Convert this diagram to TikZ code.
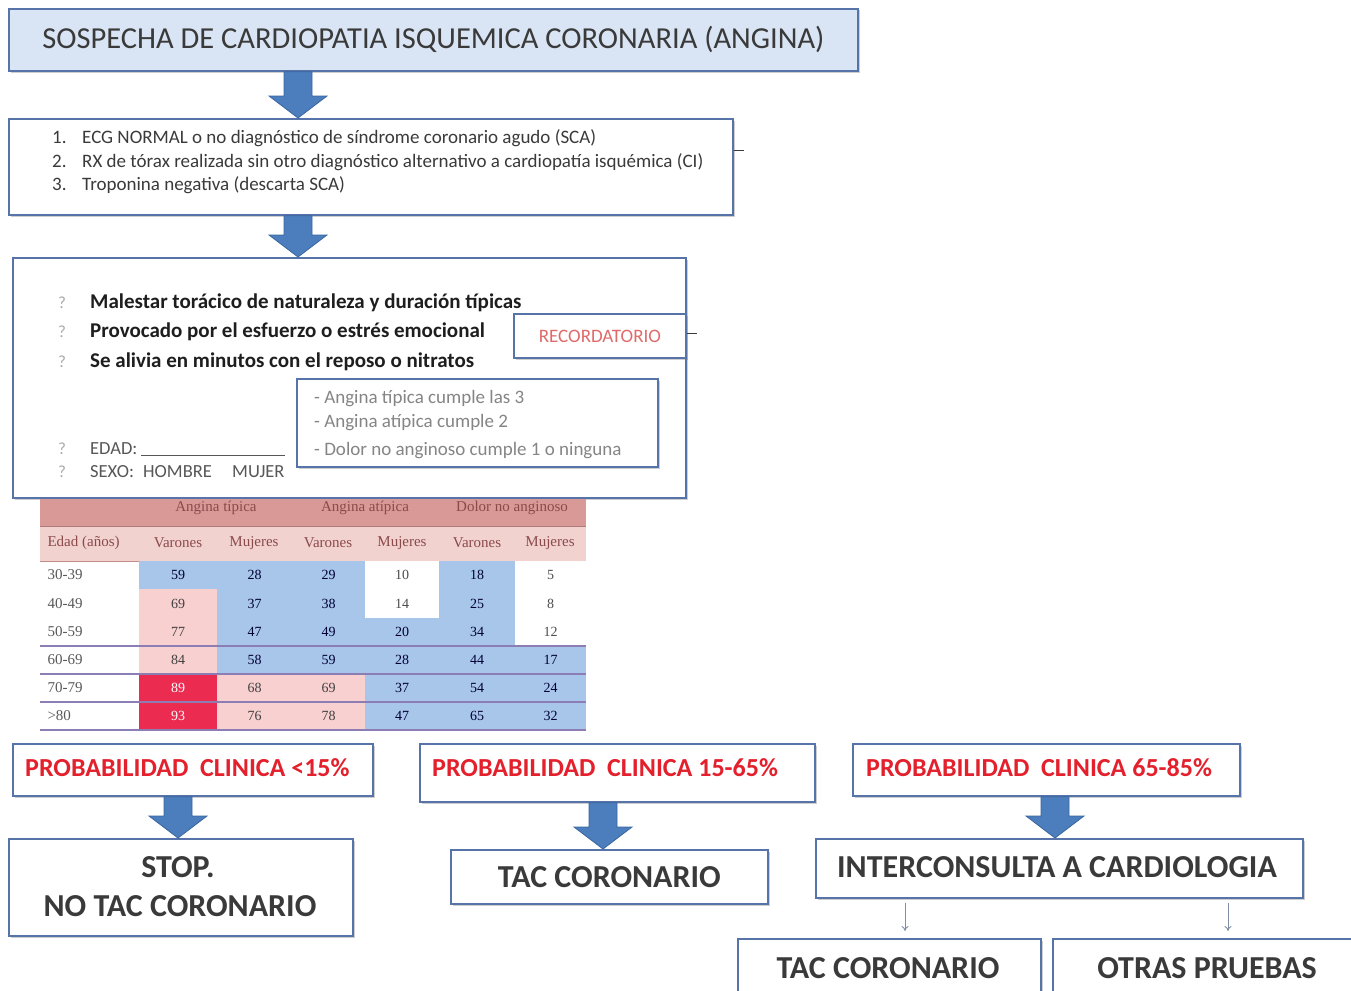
\documentclass[tikz,border=0pt]{standalone}
\usepackage{fontspec}
\setmainfont{Carlito}
\newfontfamily\tabfont{Liberation Serif}
\usetikzlibrary{shadows,calc,arrows.meta}
\definecolor{bxline}{HTML}{5673AA}
\definecolor{topfill}{HTML}{D9E5F4}
\definecolor{arrfill}{HTML}{4C7DBC}
\definecolor{arrline}{HTML}{3A66A0}
\definecolor{txtdark}{HTML}{3A3A3A}
\definecolor{txtblack}{HTML}{1E1E1E}
\definecolor{txtgray}{HTML}{858585}
\definecolor{probred}{HTML}{E3202C}
\definecolor{recred}{HTML}{E06A6A}
\definecolor{hdrA}{HTML}{D99A97}
\definecolor{hdrB}{HTML}{F2D2CF}
\definecolor{hdrtxt}{HTML}{8A4A4A}
\definecolor{tblue}{HTML}{A7C6EA}
\definecolor{tpink}{HTML}{F9D0D0}
\definecolor{tred}{HTML}{EC2B50}
\definecolor{tline}{HTML}{8C7DB4}
\definecolor{thinarr}{HTML}{7F8DA5}
\tikzset{
  box/.style={draw=bxline, line width=1.8pt, fill=white, inner sep=0pt, anchor=north west,
    drop shadow={shadow xshift=1.6pt, shadow yshift=-1.6pt, opacity=0.35, fill=black!55}},
  titletxt/.style={font=\fontsize{30.5}{33}\selectfont, text=txtdark, inner sep=0pt},
  listtxt/.style={font=\fontsize{19}{21}\selectfont, text=txtdark, anchor=base west, inner sep=0pt},
  boldtxt/.style={font=\bfseries\fontsize{21}{23}\selectfont, text=txtblack, anchor=base west, inner sep=0pt},
  qtxt/.style={font=\fontsize{17}{19}\selectfont, text=txtgray!70, anchor=base west, inner sep=0pt},
  smalltxt/.style={font=\fontsize{18.5}{20}\selectfont, text=txtdark!85, anchor=base west, inner sep=0pt},
  graytxt/.style={font=\fontsize{19}{21}\selectfont, text=txtgray, anchor=base west, inner sep=0pt},
  rectxt/.style={font=\fontsize{19}{21}\selectfont, text=recred, inner sep=0pt},
  probtxt/.style={font=\bfseries\fontsize{26}{28}\selectfont, text=probred, anchor=west, inner sep=0pt},
  restxt/.style={font=\bfseries\fontsize{32}{34}\selectfont, text=txtdark, inner sep=0pt},
  thinarrow/.style={draw=thinarr, line width=0.9pt, -{To[length=5pt,width=7pt]}, shorten <=4pt, shorten >=7pt},
  tick/.style={draw=txtdark, line width=0.8pt},
  cellB/.style={fill=tblue}, cellP/.style={fill=tpink}, cellR/.style={fill=tred}, cellW/.style={fill=white},
  txtB/.style={font=\tabfont\fontsize{14}{16}\selectfont, text=black!80!blue},
  txtP/.style={font=\tabfont\fontsize{14}{16}\selectfont, text=black!75},
  txtR/.style={font=\tabfont\fontsize{14}{16}\selectfont, text=white},
  txtW/.style={font=\tabfont\fontsize{14}{16}\selectfont, text=black!70},
  hdrtext/.style={font=\tabfont\fontsize{15}{17}\selectfont, text=hdrtxt},
  rowlab/.style={font=\tabfont\fontsize{15}{17}\selectfont, text=black!65, anchor=west},
}
\newcommand{\blockarr}[2]{%
  \path[fill=arrfill, draw=arrline, line width=0.8pt] let \p1=(#1), \p2=(#2) in
    (\x1-14pt,\y1) -- (\x1+14pt,\y1) -- (\x1+14pt,\y2+22pt) -- (\x1+29pt,\y2+22pt)
    -- (\x1,\y2) -- (\x1-29pt,\y2+22pt) -- (\x1-14pt,\y2+22pt) -- cycle;}
\newcommand{\tc}[4]{%
  \pgfmathsetmacro\xa{{139,217,292,365,439,515,586}[#1-1]}%
  \pgfmathsetmacro\xb{{139,217,292,365,439,515,586}[#1]}%
  \pgfmathsetmacro\ya{{561,589,618,646,674,702,730}[#2-1]}%
  \pgfmathsetmacro\yb{{561,589,618,646,674,702,730}[#2]}%
  \fill[cell#3] (\xa,\ya) rectangle (\xb,\yb);
  \node[txt#3] (c#2-#1) at ({(\xa+\xb)/2},{(\ya+\yb)/2}) {#4};}
\begin{document}
\begin{tikzpicture}[x=1pt,y=-1pt]
\useasboundingbox (0,0) rectangle (1351,990);
\clip (0,0) rectangle (1351,990);
\fill[white] (0,0) rectangle (1351,990);

% top box
\node[box, fill=topfill, minimum width=849pt, minimum height=62pt] (top) at (8,8) {};
\node[titletxt] (toptxt) at (top.center) {SOSPECHA DE CARDIOPATIA ISQUEMICA CORONARIA (ANGINA)};

% box 2
\node[box, minimum width=724pt, minimum height=96pt] (b2) at (8,118) {};
\node[listtxt] (n1) at (52,143) {1.};
\node[listtxt] (l1) at (82,143) {ECG NORMAL o no diagnóstico de síndrome coronario agudo (SCA)};
\node[listtxt] (n2) at (52,167) {2.};
\node[listtxt] (l2) at (82,167) {RX de tórax realizada sin otro diagnóstico alternativo a cardiopatía isquémica (CI)};
\node[listtxt] (n3) at (52,190) {3.};
\node[listtxt] (l3) at (82,190) {Troponina negativa (descarta SCA)};
\coordinate (k2) at ($(b2.north east)+(0,32)$);
\draw[tick] (k2) -- ++(10,0);

% box 3
\node[box, minimum width=673pt, minimum height=240pt] (b3) at (12,257) {};
\node[qtxt] (q1) at (58,308) {?};
\node[boldtxt] (m1) at (90,308) {Malestar torácico de naturaleza y duración típicas};
\node[qtxt] (q2) at (58,337) {?};
\node[boldtxt] (m2) at (90,337) {Provocado por el esfuerzo o estrés emocional};
\node[qtxt] (q3) at (58,367) {?};
\node[boldtxt] (m3) at (90,367) {Se alivia en minutos con el reposo o nitratos};
\node[qtxt] (q4) at (58,454) {?};
\node[smalltxt] (edad) at (90,454) {EDAD:\hspace{4pt}\raisebox{-1.5pt}{\rule{144pt}{0.7pt}}};
\node[qtxt] (q5) at (58,477) {?};
\node[smalltxt] (sexo) at (90,477) {SEXO:};
\node[smalltxt] (hom) at (143,477) {HOMBRE};
\node[smalltxt] (muj) at (232,477) {MUJER};

\node[box, minimum width=172pt, minimum height=44pt] (rec) at (513,313) {};
\node[rectxt] (rect) at (rec.center) {RECORDATORIO};
\coordinate (k3) at (rec.east);
\draw[tick] ($(k3)+(0,-3)$) -- ++(10,0);

\node[box, minimum width=361pt, minimum height=88pt] (inner) at (296,378) {};
\node[graytxt] (i1) at (314,403) {- Angina típica cumple las 3};
\node[graytxt] (i2) at (314,427) {- Angina atípica cumple 2};
\node[graytxt] (i3) at (314,455) {- Dolor no anginoso cumple 1 o ninguna};

% arrows top
\coordinate (ax1) at (298,0);
\blockarr{ax1 |- top.south}{ax1 |- b2.north}
\blockarr{ax1 |- b2.south}{ax1 |- b3.north}

% table
\fill[hdrA] (40,499) rectangle (586,526);
\fill[hdrB] (40,527) rectangle (586,561);
\draw[hdrA!80!black, line width=1pt] (40,526.5) -- (586,526.5);
\draw[hdrA!90!black, line width=1pt] (40,561) -- (586,561);
\node[hdrtext] (h1) at (216,508) {Angina típica};
\node[hdrtext] (h2) at (365,508) {Angina atípica};
\node[hdrtext] (h3) at (512,508) {Dolor no anginoso};
\node[hdrtext, anchor=west] (h0) at (44,543) {Edad (años)};
\foreach \c/\t/\x in {1/Varones/178,2/Mujeres/254,3/Varones/328,4/Mujeres/402,5/Varones/477,6/Mujeres/550}
  {\node[hdrtext] (hh\c) at (\x,543) {\t};}
\foreach \c/\f/\v in {1/B/59,2/B/28,3/B/29,4/W/10,5/B/18,6/W/5} {\tc{\c}{1}{\f}{\v}}
\foreach \c/\f/\v in {1/P/69,2/B/37,3/B/38,4/W/14,5/B/25,6/W/8} {\tc{\c}{2}{\f}{\v}}
\foreach \c/\f/\v in {1/P/77,2/B/47,3/B/49,4/B/20,5/B/34,6/W/12} {\tc{\c}{3}{\f}{\v}}
\foreach \c/\f/\v in {1/P/84,2/B/58,3/B/59,4/B/28,5/B/44,6/B/17} {\tc{\c}{4}{\f}{\v}}
\foreach \c/\f/\v in {1/R/89,2/P/68,3/P/69,4/B/37,5/B/54,6/B/24} {\tc{\c}{5}{\f}{\v}}
\foreach \c/\f/\v in {1/R/93,2/P/76,3/P/78,4/B/47,5/B/65,6/B/32} {\tc{\c}{6}{\f}{\v}}
\foreach \r/\t/\y in {1/30-39/575,2/40-49/603.5,3/50-59/632,4/60-69/660,5/70-79/688,6/>80/716}
  {\node[rowlab] (rl\r) at (44,\y) {\t};}
\foreach \y in {646,674,702,730} {\draw[tline, line width=1.6pt] (40,\y) -- (586,\y);}

% probability boxes
\node[box, minimum width=360pt, minimum height=52pt] (p1) at (12,743) {};
\node[probtxt] (p1t) at (25,768) {PROBABILIDAD\ \ CLINICA <15\%};
\node[box, minimum width=395pt, minimum height=58pt] (p2) at (419,743) {};
\node[probtxt] (p2t) at (432,768) {PROBABILIDAD\ \ CLINICA 15-65\%};
\node[box, minimum width=387pt, minimum height=52pt] (p3) at (852,743) {};
\node[probtxt] (p3t) at (866,768) {PROBABILIDAD\ \ CLINICA 65-85\%};

% result boxes
\node[box, minimum width=344pt, minimum height=97pt] (r1) at (8,838) {};
\node[restxt] (r1a) at (178,867) {STOP.};
\node[restxt] (r1b) at (180,906) {NO TAC CORONARIO};
\node[box, minimum width=317pt, minimum height=54pt] (r2) at (450,849) {};
\node[restxt] (r2t) at (r2.center) {TAC CORONARIO};
\node[box, minimum width=487pt, minimum height=59pt] (r3) at (815,838) {};
\node[restxt] (r3t) at (1057,867) {INTERCONSULTA A CARDIOLOGIA};
\node[box, minimum width=303pt, minimum height=70pt] (r4) at (737,938) {};
\node[restxt] (r4t) at (888,968) {TAC CORONARIO};
\node[box, minimum width=320pt, minimum height=70pt] (r5) at (1052,938) {};
\node[restxt] (r5t) at (1207,968) {OTRAS PRUEBAS};

% arrows bottom
\coordinate (ax3) at (178,0);
\coordinate (ax4) at (603,0);
\coordinate (ax5) at (1055,0);
\blockarr{ax3 |- p1.south}{ax3 |- r1.north}
\blockarr{ax4 |- p2.south}{ax4 |- r2.north}
\blockarr{ax5 |- p3.south}{ax5 |- r3.north}
\coordinate (tx1) at (905,0);
\coordinate (tx2) at (1228,0);
\draw[thinarrow] (tx1 |- r3.south) -- (tx1 |- r4.north);
\draw[thinarrow] (tx2 |- r3.south) -- (tx2 |- r5.north);
\end{tikzpicture}
\end{document}
